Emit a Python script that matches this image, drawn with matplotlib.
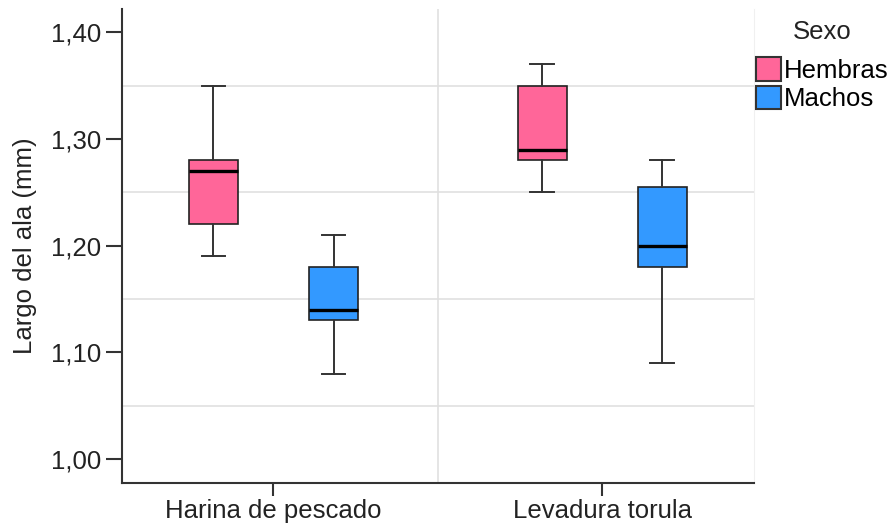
import matplotlib.pyplot as plt
from matplotlib.patches import Patch
from matplotlib.ticker import FixedLocator, FuncFormatter

plt.rcParams['font.family'] = ['Liberation Sans', 'DejaVu Sans']

# Data
categories = ['Harina de pescado', 'Levadura torula']
sexes = ['Hembras', 'Machos']

whislo_h = [1.19, 1.25]
q1_h = [1.22, 1.28]
med_h = [1.27, 1.29]
q3_h = [1.28, 1.35]
whishi_h = [1.35, 1.37]

whislo_m = [1.08, 1.09]
q1_m = [1.13, 1.18]
med_m = [1.14, 1.20]
q3_m = [1.18, 1.255]
whishi_m = [1.21, 1.28]

yticks = [1.00, 1.10, 1.20, 1.30, 1.40]
ygrid = [1.05, 1.15, 1.25, 1.35]

colors = ['#FF6699', '#3399FF']

fs = 18.5

fig = plt.figure(figsize=(8.93, 5.27), dpi=100)
ax = fig.add_axes([0.1363, 0.0841, 0.708, 0.898])

# group centres (SPSS puts them slightly off the category middle)
centers = [-0.02, 1.02]
offset = 0.19

groups = [
    (whislo_h, q1_h, med_h, q3_h, whishi_h),
    (whislo_m, q1_m, med_m, q3_m, whishi_m),
]

for s, (lo, q1, med, q3, hi) in enumerate(groups):
    stats = []
    for i in range(len(categories)):
        stats.append(dict(whislo=lo[i], q1=q1[i], med=med[i], q3=q3[i],
                          whishi=hi[i], fliers=[]))
    pos = [c + (offset if s else -offset) for c in centers]
    ax.bxp(stats, positions=pos, widths=0.155, capwidths=0.075,
           patch_artist=True, showfliers=False, manage_ticks=False,
           boxprops=dict(facecolor=colors[s], edgecolor='#222222', linewidth=1.2),
           medianprops=dict(color='black', linewidth=2.4),
           whiskerprops=dict(color='#333333', linewidth=1.4),
           capprops=dict(color='#333333', linewidth=1.4),
           zorder=3)

# grid: horizontal half-steps and the category separator
for g in ygrid:
    ax.axhline(g, color='#E0E0E0', linewidth=1.2, zorder=1)
ax.axvline(0.5, color='#E0E0E0', linewidth=1.2, zorder=1)

ax.set_xlim(-0.5, 1.5)
ax.set_ylim(0.978, 1.4213)
ax.set_xticks(centers)
ax.set_xticklabels(categories)
ax.yaxis.set_major_locator(FixedLocator(yticks))
ax.yaxis.set_major_formatter(FuncFormatter(lambda v, p: ('%.2f' % v).replace('.', ',')))

ax.spines['top'].set_visible(False)
ax.spines['right'].set_color('#F0F0F0')
for side in ['left', 'bottom']:
    ax.spines[side].set_color('#333333')
    ax.spines[side].set_linewidth(1.5)

ax.tick_params(axis='y', length=11.5, width=1.5, color='#333333', pad=3,
               labelsize=fs, labelcolor='#222222')
ax.tick_params(axis='x', length=9, width=1.5, color='#333333', pad=3,
               labelsize=fs, labelcolor='#222222')
ax.set_ylabel('Largo del ala (mm)', fontsize=fs, color='#222222', labelpad=10)

# legend title drawn on its own so the gap to the entries matches
fig.text(0.921, 0.939, 'Sexo', fontsize=fs, color='#222222', ha='center', va='center')

handles = [Patch(facecolor=colors[i], edgecolor='#333333', linewidth=1.5)
           for i in range(len(sexes))]
leg = fig.legend(handles, sexes, loc='upper left', bbox_to_anchor=(0.847, 0.891),
                 frameon=False, fontsize=fs,
                 handlelength=0.97, handleheight=1.02, handletextpad=0.1,
                 labelspacing=0.12, borderpad=0, borderaxespad=0)

fig.savefig('out.png', dpi=100)
